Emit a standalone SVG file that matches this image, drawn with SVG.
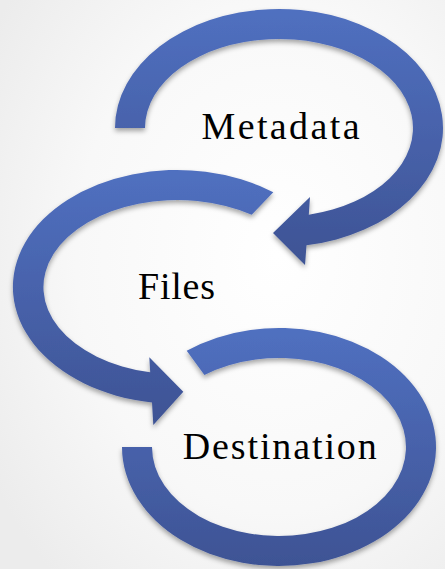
<svg xmlns="http://www.w3.org/2000/svg" width="445" height="569" viewBox="0 0 445 569">
  <defs>
    <radialGradient id="bg" cx="0.62" cy="0.45" r="0.75">
      <stop offset="0" stop-color="#ffffff"/>
      <stop offset="0.6" stop-color="#f8f8f8"/>
      <stop offset="1" stop-color="#ececec"/>
    </radialGradient>
    <linearGradient id="band" x1="0" y1="0" x2="0" y2="1">
      <stop offset="0" stop-color="#5070c0"/>
      <stop offset="1" stop-color="#3e5394"/>
    </linearGradient>
    <filter id="shadow" x="-10%" y="-10%" width="120%" height="125%">
      <feDropShadow dx="0" dy="3" stdDeviation="2.5" flood-color="#000" flood-opacity="0.35"/>
    </filter>
  </defs>
  <style>
    .arrow { fill: url(#band); filter: url(#shadow); }
    .label { font-family: "Liberation Serif", "Times New Roman", serif; font-size: 38px; fill: #000; text-anchor: middle; }
  </style>
  <rect x="0" y="0" width="445" height="569" fill="url(#bg)"/>

  <g id="node-metadata">
    <path class="arrow" d="M 115 128 A 164 119 0 1 1 306.5 245.3 L 305 265 L 273 233 L 310 197 L 308.8 214.8 A 134 89 0 1 0 145 128 Z"/>
    <text class="label" x="280.5" y="138.5" textLength="158" lengthAdjust="spacing">Metadata</text>
  </g>

  <g id="node-files">
    <path class="arrow" d="M 273.3 192.3 A 164 117 0 1 0 152 402.6 L 153.3 425 L 183.3 391.7 L 149.3 357.3 L 150.2 372.3 A 134 87 0 1 1 251.7 214.7 Z"/>
    <text class="label" x="176.5" y="299" textLength="77" lengthAdjust="spacing">Files</text>
  </g>

  <g id="node-destination">
    <path class="arrow" d="M 122 447 A 157 119 0 1 0 186.7 350.7 L 204.4 375 A 127 89 0 1 1 152 447 Z"/>
    <text class="label" x="279.7" y="459.3" textLength="194" lengthAdjust="spacing">Destination</text>
  </g>
</svg>
